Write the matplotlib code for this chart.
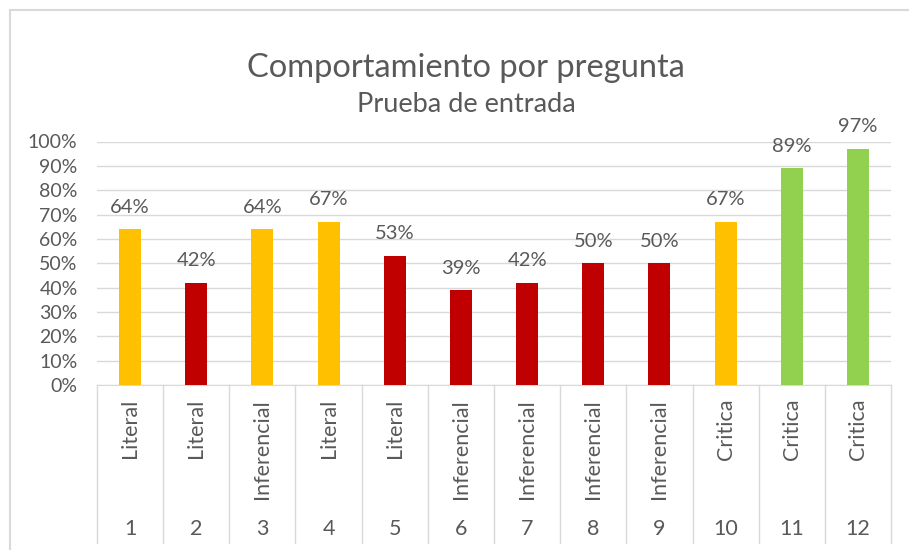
import matplotlib.pyplot as plt
import matplotlib.transforms as mtransforms
from matplotlib.patches import Rectangle
from matplotlib.ticker import FuncFormatter

# data
preguntas = ['1', '2', '3', '4', '5', '6', '7', '8', '9', '10', '11', '12']
tipos = ['Literal', 'Literal', 'Inferencial', 'Literal', 'Literal', 'Inferencial',
         'Inferencial', 'Inferencial', 'Inferencial', 'Critica', 'Critica', 'Critica']
valores = [0.64, 0.42, 0.64, 0.67, 0.53, 0.39, 0.42, 0.50, 0.50, 0.67, 0.89, 0.97]
colores = ['#FFC000', '#C00000', '#FFC000', '#FFC000', '#C00000', '#C00000',
           '#C00000', '#C00000', '#C00000', '#FFC000', '#92D050', '#92D050']

plt.rcParams['font.family'] = ['Lato', 'DejaVu Sans']
txt = '#595959'
grid = '#D9D9D9'

W, H = 909, 550
fig = plt.figure(figsize=(W / 100, H / 100), dpi=100)
ax = fig.add_axes([97 / W, (H - 385) / H, (891 - 97) / W, (385 - 141.5) / H])

x = list(range(len(valores)))
ax.bar(x, valores, width=0.33, color=colores, zorder=3)
for xi, v in zip(x, valores):
    ax.annotate('{:.0f}%'.format(v * 100), (xi, v), xytext=(0, 22), textcoords='offset pixels',
                ha='center', va='center', fontsize=14.5, color=txt)

ax.set_xlim(-0.5, len(valores) - 0.5)
ax.set_ylim(0, 1.0)
ax.set_yticks([i / 10 for i in range(11)])
ax.yaxis.set_major_formatter(FuncFormatter(lambda v, p: '{:.0f}%'.format(v * 100)))
ax.tick_params(axis='y', length=0, pad=14, labelsize=14, labelcolor=txt)
ax.set_xticks([])
ax.grid(axis='y', color=grid, lw=1, zorder=0)
for s in ['left', 'right', 'top']:
    ax.spines[s].set_visible(False)
ax.spines['bottom'].set_color(grid)

# multi-level category axis below the plot
bt = mtransforms.blended_transform_factory(ax.transData, fig.transFigure)
for b in range(len(valores) + 1):
    ax.plot([b - 0.5, b - 0.5], [(H - 385) / H, (H - 543) / H], color=grid, lw=1,
            transform=bt, clip_on=False)
for xi, t, n in zip(x, tipos, preguntas):
    ax.text(xi, (H - 399) / H, t, rotation=90, ha='center', va='top', fontsize=15.5,
            color=txt, transform=bt)
    ax.text(xi, (H - 529) / H, n, ha='center', va='center', fontsize=15.5,
            color=txt, transform=bt)

fig.text(466 / W, (H - 68) / H, 'Comportamiento por pregunta', ha='center', va='center',
         fontsize=23.5, color=txt)
fig.text(466 / W, (H - 105) / H, 'Prueba de entrada', ha='center', va='center',
         fontsize=19.5, color=txt)

fig.add_artist(Rectangle((10 / W, -0.1), 1.2, (H - 10) / H + 0.1, transform=fig.transFigure,
                         fill=False, ec=grid, lw=1.5))

fig.savefig('out.png', dpi=100)
